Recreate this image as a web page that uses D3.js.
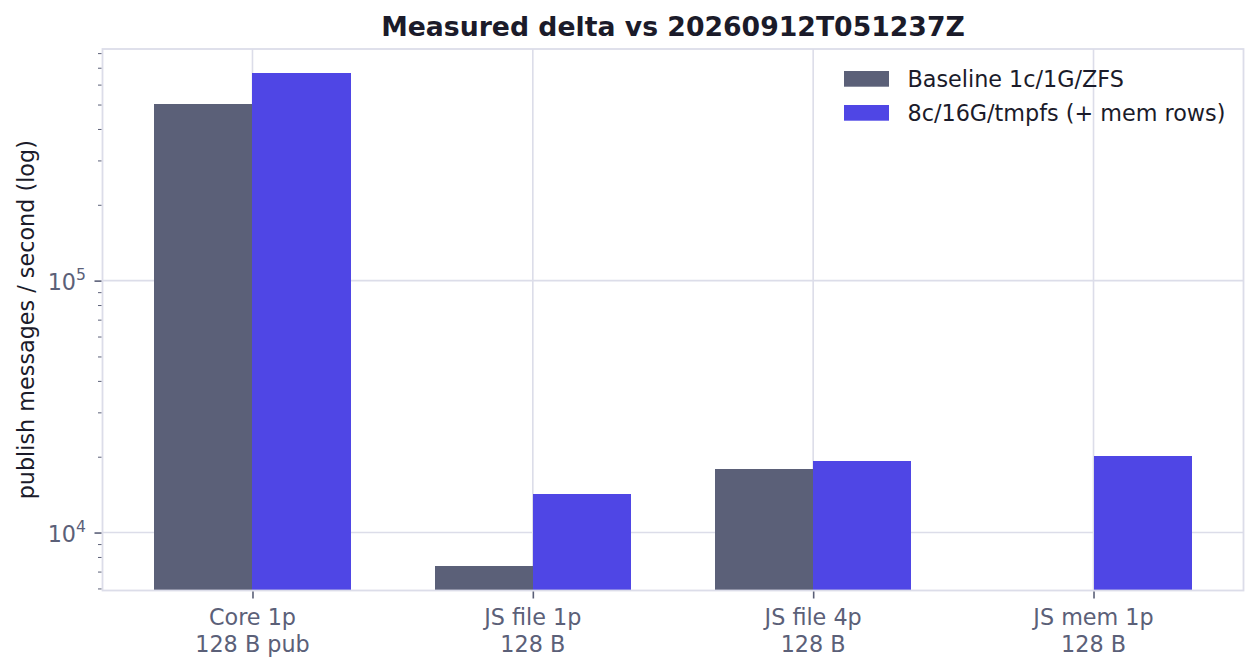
<!DOCTYPE html>
<html>
<head>
<meta charset="utf-8">
<script src="https://cdn.jsdelivr.net/npm/d3@7"></script>
<style>
  html, body { margin: 0; padding: 0; background: #fff; }
  svg { display: block; font-family: "DejaVu Sans", sans-serif; }
</style>
</head>
<body>
<svg id="chart" width="1259" height="672"></svg>
<script>
// ---- data ----
const categories = ["Core 1p\n128 B pub", "JS file 1p\n128 B", "JS file 4p\n128 B", "JS mem 1p\n128 B"];
const seriesNames = ["Baseline 1c/1G/ZFS", "8c/16G/tmpfs (+ mem rows)"];
const baselineValues = [502500, 7380, 17890, null];
const tunedValues = [667300, 14240, 19250, 20160];
const yTickValues = [1e4, 1e5];
const yTickExponents = ["4", "5"];
const titleText = "Measured delta vs 20260912T051237Z";
const yLabelText = "publish messages / second (log)";

// ---- layout ----
const W = 1259, H = 672;
const plot = { left: 102.5, right: 1243.5, top: 49, bottom: 590.5 };
const colors = ["#5b6078", "#4f46e5"];
const gridColor = "#dcdde9";
const tickColor = "#5b6078";
const textDark = "#1b1b2a";
const barW = 0.35;
const fs = 22.3;

const svg = d3.select("#chart");

const x = d3.scaleLinear().domain([-0.535, 3.535]).range([plot.left, plot.right]);
const y = d3.scaleLog().domain([5888, 830700]).range([plot.bottom, plot.top]);

// gridlines
const g = svg.append("g");
g.selectAll("line.vgrid").data(categories).enter().append("line")
  .attr("x1", (d, i) => x(i)).attr("x2", (d, i) => x(i))
  .attr("y1", plot.top).attr("y2", plot.bottom)
  .attr("stroke", gridColor).attr("stroke-width", 1.6);
g.selectAll("line.hgrid").data(yTickValues).enter().append("line")
  .attr("x1", plot.left).attr("x2", plot.right)
  .attr("y1", d => y(d)).attr("y2", d => y(d))
  .attr("stroke", gridColor).attr("stroke-width", 1.6);

// bars
const series = [baselineValues, tunedValues];
series.forEach((vals, s) => {
  svg.append("g").selectAll("rect").data(vals.map((v, i) => ({ v, i })).filter(d => d.v != null))
    .enter().append("rect")
    .attr("x", d => s === 0 ? x(d.i - barW) : x(d.i))
    .attr("width", x(barW) - x(0))
    .attr("y", d => y(d.v))
    .attr("height", d => plot.bottom - y(d.v))
    .attr("fill", colors[s])
    .attr("shape-rendering", "crispEdges");
});

// spines
svg.append("rect")
  .attr("x", plot.left).attr("y", plot.top)
  .attr("width", plot.right - plot.left).attr("height", plot.bottom - plot.top)
  .attr("fill", "none").attr("stroke", gridColor).attr("stroke-width", 1.8);

// y axis ticks (major + minor) via d3 axis
const minorTicks = [];
y.ticks().forEach(t => { if (!yTickValues.includes(t)) minorTicks.push(t); });
const yAxisMinor = d3.axisLeft(y).tickValues(minorTicks).tickSize(3.5).tickFormat("");
const gm = svg.append("g").attr("transform", `translate(${plot.left - 1},0)`).call(yAxisMinor);
gm.select(".domain").remove();
gm.selectAll("line").attr("stroke", tickColor).attr("stroke-width", 1);

const yAxisMajor = d3.axisLeft(y).tickValues(yTickValues).tickSize(7).tickFormat("");
const gM = svg.append("g").attr("transform", `translate(${plot.left - 1},0)`).call(yAxisMajor);
gM.select(".domain").remove();
gM.selectAll("line").attr("stroke", tickColor).attr("stroke-width", 1.6);

// y tick labels with superscript
yTickValues.forEach((v, i) => {
  const t = svg.append("text")
    .attr("x", 86).attr("y", y(v) + 9)
    .attr("text-anchor", "end")
    .attr("fill", tickColor)
    .style("font-size", fs + "px");
  t.append("tspan").text("10");
  t.append("tspan").attr("dy", -10).style("font-size", (fs * 0.7) + "px").text(yTickExponents[i]);
});

// x axis ticks
const xAxis = d3.axisBottom(x).tickValues(d3.range(categories.length)).tickSize(7).tickFormat("");
const gx = svg.append("g").attr("transform", `translate(0,${plot.bottom + 1})`).call(xAxis);
gx.select(".domain").remove();
gx.selectAll("line").attr("stroke", tickColor).attr("stroke-width", 1.6);

// x tick labels (two lines)
categories.forEach((c, i) => {
  const lines = c.split("\n");
  const t = svg.append("text")
    .attr("x", x(i)).attr("y", 625)
    .attr("text-anchor", "middle")
    .attr("fill", tickColor)
    .style("font-size", fs + "px");
  lines.forEach((ln, k) => {
    t.append("tspan").attr("x", x(i)).attr("dy", k === 0 ? 0 : 26.7).text(ln);
  });
});

// title
svg.append("text")
  .attr("x", (plot.left + plot.right) / 2).attr("y", 35.5)
  .attr("text-anchor", "middle")
  .attr("fill", textDark)
  .style("font-size", "26.7px").style("font-weight", "bold")
  .text(titleText);

// y label
svg.append("text")
  .attr("transform", `translate(34,${(plot.top + plot.bottom) / 2}) rotate(-90)`)
  .attr("text-anchor", "middle")
  .attr("fill", textDark)
  .style("font-size", fs + "px")
  .text(yLabelText);

// legend
const legend = svg.append("g");
seriesNames.forEach((name, i) => {
  legend.append("rect")
    .attr("x", 844).attr("y", 71 + i * 34)
    .attr("width", 45).attr("height", 15.7)
    .attr("fill", colors[i]);
  legend.append("text")
    .attr("x", 907.5).attr("y", 86.7 + i * 34)
    .attr("fill", textDark)
    .style("font-size", fs + "px")
    .text(name);
});
</script>
</body>
</html>
